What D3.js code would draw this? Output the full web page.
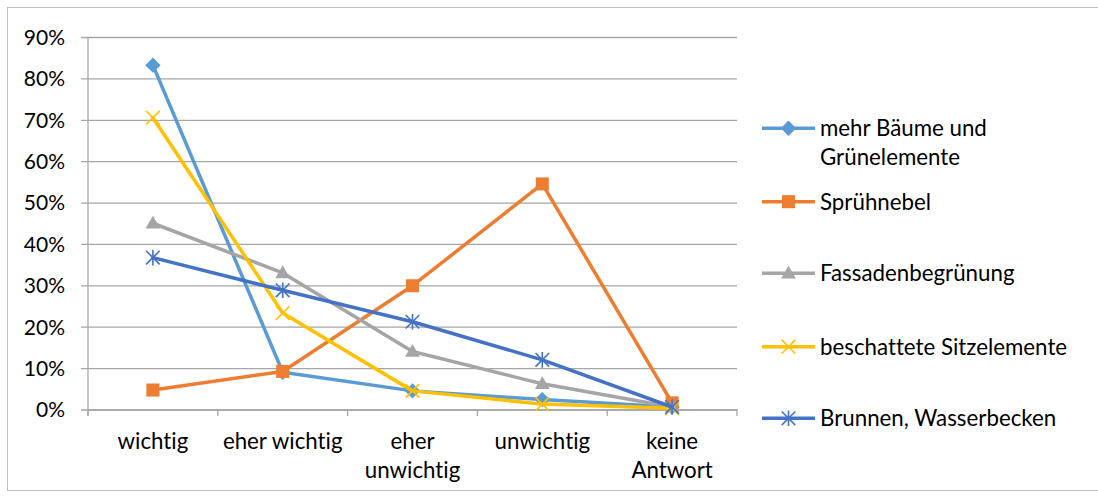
<!DOCTYPE html>
<html>
<head>
<meta charset="utf-8">
<script src="https://cdn.jsdelivr.net/npm/d3@7"></script>
<style>
  html, body { margin: 0; padding: 0; background: #ffffff; }
  svg text { font-family: Lato, "Open Sans", "Noto Sans", sans-serif; fill: #000;
             font-variant-ligatures: none; font-feature-settings: "liga" 0, "clig" 0; }
</style>
</head>
<body>
<svg id="chart" width="1098" height="498"></svg>
<script>
// Categories (answer options) and the label lines under each one
const categories = ["wichtig", "eher wichtig", "eher unwichtig", "unwichtig", "keine Antwort"];
const categoryLabels = [["wichtig"], ["eher wichtig"], ["eher", "unwichtig"], ["unwichtig"], ["keine", "Antwort"]];

// Share of answers per measure, in percent
const baeume      = [83.2, 9.0, 4.5, 2.4, 0.6];
const spruehnebel = [4.7, 9.2, 29.9, 54.5, 1.6];
const fassade     = [45.0, 33.0, 14.0, 6.2, 0.6];
const sitz        = [70.5, 23.3, 4.5, 1.3, 0.3];
const brunnen     = [36.7, 28.8, 21.2, 12.0, 0.6];

const seriesNames = ["mehr Bäume und Grünelemente", "Sprühnebel", "Fassadenbegrünung", "beschattete Sitzelemente", "Brunnen, Wasserbecken"];
const legendLines = [["mehr Bäume und", "Grünelemente"], ["Sprühnebel"], ["Fassadenbegrünung"], ["beschattete Sitzelemente"], ["Brunnen, Wasserbecken"]];
const yTicks = [0, 10, 20, 30, 40, 50, 60, 70, 80, 90];

const seriesValues = [baeume, spruehnebel, fassade, sitz, brunnen];
const colors = ["#5B9BD5", "#ED7D31", "#A5A5A5", "#FFC000", "#4472C4"];
const markers = ["diamond", "square", "triangle", "x", "star"];

const svg = d3.select("#chart");
const axisFont = 21;
const labelFont = 22.3;

// chart frame
svg.append("rect")
  .attr("x", 7.5).attr("y", 7.5)
  .attr("width", 1100).attr("height", 483)
  .attr("fill", "#fff").attr("stroke", "#bfbfbf").attr("stroke-width", 1);

const plot = { left: 88, right: 737, top: 37, bottom: 409.5 };

const x = d3.scaleBand().domain(categories).range([plot.left, plot.right]).padding(0);
const y = d3.scaleLinear().domain([0, 90]).range([plot.bottom, plot.top]);

// horizontal gridlines + y tick labels
const yAxis = d3.axisLeft(y).tickValues(yTicks)
  .tickSize(-(plot.right - plot.left))
  .tickSizeOuter(0)
  .tickPadding(16)
  .tickFormat(d => d + "%");

const gy = svg.append("g").attr("transform", `translate(${plot.left},0)`).call(yAxis);
gy.select(".domain").remove();
gy.selectAll(".tick line")
  .attr("x1", -7)
  .attr("stroke", "#a6a6a6").attr("stroke-width", 1.3);
gy.selectAll(".tick text")
  .attr("x", -23)
  .attr("font-size", axisFont)
  .attr("dy", "0.35em");

// vertical axis line
svg.append("line")
  .attr("x1", plot.left).attr("x2", plot.left)
  .attr("y1", plot.top).attr("y2", plot.bottom + 6)
  .attr("stroke", "#a6a6a6").attr("stroke-width", 1.3);

// category axis with boundary ticks
const xAxis = d3.axisBottom(x).tickSize(0).tickFormat("");
const gx = svg.append("g").attr("transform", `translate(0,${plot.bottom})`).call(xAxis);
gx.select(".domain").attr("stroke", "#a6a6a6").attr("stroke-width", 1.3);
const boundaries = categories.map(c => x(c)).concat([x(categories[categories.length - 1]) + x.bandwidth()]);
gx.selectAll(".boundary").data(boundaries).join("line")
  .attr("class", "boundary")
  .attr("x1", d => d).attr("x2", d => d)
  .attr("y1", 0).attr("y2", 6.5)
  .attr("stroke", "#a6a6a6").attr("stroke-width", 1.3);

// category labels (multi-line)
const catLabel = svg.append("g").selectAll("text").data(categories).join("text")
  .attr("text-anchor", "middle")
  .attr("font-size", labelFont)
  .attr("transform", d => `translate(${x(d) + x.bandwidth() / 2},449)`);
catLabel.selectAll("tspan").data((d, i) => categoryLabels[i]).join("tspan")
  .attr("x", 0)
  .attr("y", (d, i) => i * 28.5)
  .text(d => d);

// marker drawing
function drawMarker(g, type, color) {
  if (type === "diamond") {
    g.append("path").attr("d", d3.symbol(d3.symbolSquare, 118)())
      .attr("transform", "rotate(45)").attr("fill", color);
  } else if (type === "square") {
    g.append("path").attr("d", d3.symbol(d3.symbolSquare, 170)()).attr("fill", color);
  } else if (type === "triangle") {
    g.append("path").attr("d", d3.symbol(d3.symbolTriangle, 95)())
      .attr("transform", "translate(0,1)").attr("fill", color);
  } else if (type === "x") {
    const r = 6.8;
    g.append("path").attr("d", `M${-r},${-r}L${r},${r}M${-r},${r}L${r},${-r}`)
      .attr("stroke", color).attr("stroke-width", 1.6).attr("fill", "none");
  } else if (type === "star") {
    const r = 6.8;
    g.append("path").attr("d", `M${-r},${-r}L${r},${r}M${-r},${r}L${r},${-r}M0,${-r - 1}L0,${r + 1}`)
      .attr("stroke", color).attr("stroke-width", 1.6).attr("fill", "none");
  }
}

const line = d3.line()
  .x((d, i) => x(categories[i]) + x.bandwidth() / 2)
  .y(d => y(d));

// series lines with markers
seriesValues.forEach((vals, si) => {
  const g = svg.append("g").attr("class", "series");
  g.append("path").datum(vals)
    .attr("d", line)
    .attr("fill", "none")
    .attr("stroke", colors[si])
    .attr("stroke-width", 3.5)
    .attr("stroke-linejoin", "round")
    .attr("stroke-linecap", "round");
  vals.forEach((v, i) => {
    const mg = g.append("g")
      .attr("transform", `translate(${x(categories[i]) + x.bandwidth() / 2},${y(v)})`);
    drawMarker(mg, markers[si], colors[si]);
  });
});

// legend
const legendY = [128.3, 201.7, 273.3, 346.7, 418.3];
const legend = svg.append("g");
seriesNames.forEach((name, si) => {
  const g = legend.append("g").attr("transform", `translate(0,${legendY[si]})`);
  g.append("line").attr("x1", 762).attr("x2", 815).attr("y1", 0).attr("y2", 0)
    .attr("stroke", colors[si]).attr("stroke-width", 3.5);
  const mg = g.append("g").attr("transform", "translate(788.5,0)");
  drawMarker(mg, markers[si], colors[si]);
  const t = g.append("text").attr("font-size", labelFont);
  t.selectAll("tspan").data(legendLines[si]).join("tspan")
    .attr("x", 820)
    .attr("y", (d, i) => i * 28.4)
    .attr("dy", "0.35em")
    .text(d => d);
});
</script>
</body>
</html>
